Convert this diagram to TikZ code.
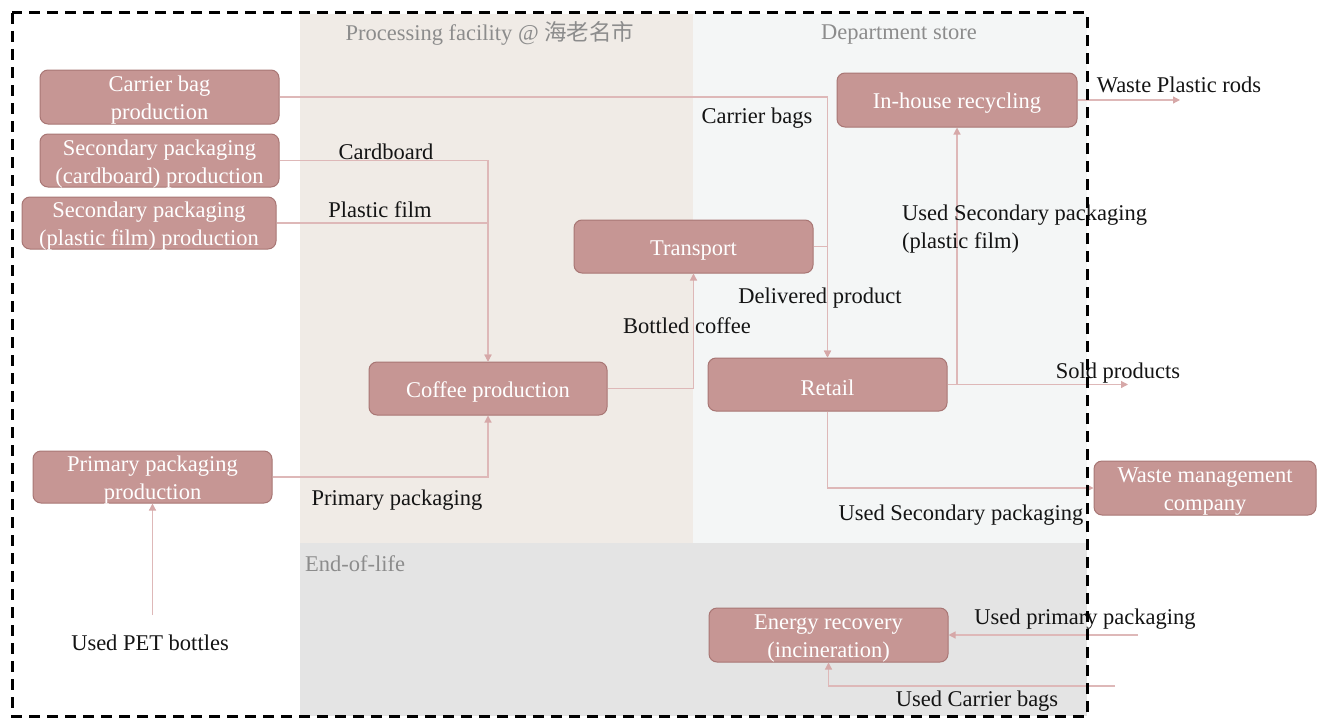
\documentclass[tikz,border=0pt]{standalone}
\usepackage{fontspec}
\setmainfont{Liberation Serif}
\newfontfamily\cjk{Noto Sans CJK SC}
\usetikzlibrary{arrows.meta}

\definecolor{boxfill}{RGB}{198,150,148}
\definecolor{boxline}{RGB}{168,118,116}
\definecolor{flowline}{RGB}{222,184,184}
\definecolor{flowtip}{RGB}{214,168,168}
\definecolor{procbg}{RGB}{240,235,230}
\definecolor{deptbg}{RGB}{244,246,246}
\definecolor{eolbg}{RGB}{228,228,228}
\definecolor{headtext}{RGB}{140,140,140}
\definecolor{labeltext}{RGB}{20,20,20}

% struts that set box text a little below the box centre
\newcommand\onestrut{\rule{0pt}{22.5pt}}
\newcommand\twostrut{\rule{0pt}{17.5pt}}
% two-line box text: first line strutted, last line without depth
\newcommand\twoline[2]{\twostrut #1\\\smash{#2}}

\tikzset{
  stage/.style={draw=boxline, line width=1pt, fill=boxfill, rounded corners=8pt,
    text=white, align=center, inner sep=1pt,
    font=\fontsize{22.5}{28}\selectfont},
  flow/.style={draw=flowline, line width=1.2pt,
    -{Triangle[width=7pt,length=7pt,color=flowtip]}},
  flowlabel/.style={text=labeltext, inner sep=0pt, yshift=-2pt,
    font=\fontsize{22.5}{28}\selectfont},
  zonelabel/.style={text=headtext, inner sep=0pt,
    font=\fontsize{22.5}{28}\selectfont},
  boundary/.style={draw=black, line width=3pt, dash pattern=on 11pt off 7pt}
}

\begin{document}
\begin{tikzpicture}[x=1pt,y=-1pt]
\useasboundingbox (0,0) rectangle (1321,717);

% zones
\fill[procbg] (300,14) rectangle (693,543);
\fill[deptbg] (693,14) rectangle (1087,543);
\fill[eolbg] (300,543) rectangle (1087,716);
\node[zonelabel] (zproc) at (490,33) {Processing facility @ {\cjk 海老名市}};
\node[zonelabel] (zdept) at (899,35) {Department store};
\node[zonelabel, anchor=west] (zeol) at (305,564) {End-of-life};

% process stages
\node[stage, minimum width=239pt, minimum height=54pt] (cbag) at (159.5,97) {\twoline{Carrier bag}{production}};
\node[stage, minimum width=239pt, minimum height=53pt] (seccb) at (159.5,160.5) {\twoline{Secondary packaging}{(cardboard) production}};
\node[stage, minimum width=254pt, minimum height=52pt] (secpf) at (149,223) {\twoline{Secondary packaging}{(plastic film) production}};
\node[stage, minimum width=239pt, minimum height=52pt] (primprod) at (152.5,477) {\twoline{Primary packaging}{production}};
\node[stage, minimum width=238pt, minimum height=53pt] (coffee) at (488,388.5) {\onestrut Coffee production};
\node[stage, minimum width=239pt, minimum height=53pt] (transport) at (693.5,246.5) {\onestrut Transport};
\node[stage, minimum width=239pt, minimum height=53pt] (retail) at (827.5,384.5) {\onestrut Retail};
\node[stage, minimum width=240pt, minimum height=54pt] (inhouse) at (957,100) {\onestrut In-house recycling};
\node[stage, minimum width=222pt, minimum height=54pt] (waste) at (1205,488) {\twoline{Waste management}{company}};
\node[stage, minimum width=239pt, minimum height=54pt] (energy) at (828.5,635) {\twoline{Energy recovery}{(incineration)}};

% free ends of the flows
\node[flowlabel] (pet) at (150,641) {Used PET bottles};
\coordinate (petstart) at (152.5,615);
\coordinate (soldend) at (1128,384.5);
\coordinate (branch) at (957,384.5);
\coordinate (rodsend) at (1180,100);
\coordinate (uppstart) at (1138,635);
\coordinate (ucbstart) at (1115,686);

% flows
\draw[flow] (cbag.east) -| (retail.north);
\draw[flow] (seccb.east) -| (coffee.north);
\draw[flow] (secpf.east) -| (coffee.north);
\draw[flow] (primprod.east) -| (coffee.south);
\draw[flow] (petstart) -- (primprod.south);
\draw[flow] (coffee.east) -| (transport.south);
\draw[flow] (transport.east) -| (retail.north);
\draw[flow] (retail.east) -- (soldend);
\draw[flow] (branch) -- (inhouse.south);
\draw[flow] (inhouse.east) -- (rodsend);
\draw[flow] (retail.south) |- (waste.west);
\draw[flow] (uppstart) -- (energy.east);
\draw[flow] (ucbstart) -| (energy.south);

% flow labels
\node[flowlabel] (lcbags) at (757,116) {Carrier bags};
\node[flowlabel] (lcard) at (386,150) {Cardboard};
\node[flowlabel] (lfilm) at (380,208) {Plastic film};
\node[flowlabel] (lprim) at (397,498) {Primary packaging};
\node[flowlabel] (lbottled) at (687,324) {Bottled coffee};
\node[flowlabel] (ldeliv) at (820,296) {Delivered product};
\node[flowlabel] (lsold) at (1118,371) {Sold products};
\node[flowlabel, anchor=west, align=left] (lusedfilm) at (902,227) {Used Secondary packaging\\(plastic film)};
\node[flowlabel] (lrods) at (1179,83) {Waste Plastic rods};
\node[flowlabel] (lusedsec) at (961,513) {Used Secondary packaging};
\node[flowlabel] (lusedprim) at (1085,617) {Used primary packaging};
\node[flowlabel] (lusedbags) at (977,699) {Used Carrier bags};

% system boundary
\draw[boundary] (12,13) rectangle (1087,716);
\end{tikzpicture}
\end{document}
